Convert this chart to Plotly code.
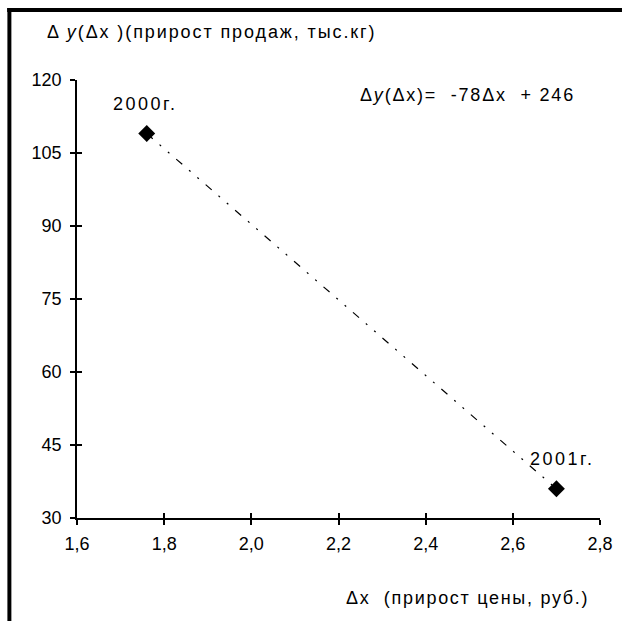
import plotly.graph_objects as go

# Data
years = ["2000г.", "2001г."]
dx = [1.76, 2.70]
dy = [109, 36]
x_ticks = [1.6, 1.8, 2.0, 2.2, 2.4, 2.6, 2.8]
y_ticks = [30, 45, 60, 75, 90, 105, 120]

FONT = "Liberation Sans"
FS = 18


def spaced(t, ls=2):
    return f'<span style="letter-spacing:{ls}px">{t}</span>'


fig = go.Figure()
fig.add_trace(go.Scatter(
    x=dx, y=dy, mode="lines",
    line=dict(color="black", width=1.2, dash="8px,9px,2px,9px,2px,9px"),
    hoverinfo="skip", showlegend=False))
fig.add_trace(go.Scatter(
    x=dx, y=dy, mode="markers",
    marker=dict(symbol="diamond", size=13, color="black"),
    showlegend=False))
# overlay axes for cross ticks
fig.add_trace(go.Scatter(x=dx, y=dy, xaxis="x2", yaxis="y2", mode="markers",
                         marker=dict(opacity=0), hoverinfo="skip", showlegend=False))

axis_common = dict(showgrid=False, zeroline=False, showline=True,
                   linecolor="black", linewidth=1.5, ticks="outside",
                   ticklen=5, tickwidth=1.5, tickcolor="black",
                   tickfont=dict(family=FONT, size=FS, color="black"))

fig.update_layout(
    width=625, height=621,
    margin=dict(l=77, r=22, t=80, b=103),
    paper_bgcolor="white", plot_bgcolor="white",
    separators=", ",
    font=dict(family=FONT, size=FS, color="black"),
    xaxis=dict(range=[1.6, 2.8], tickvals=x_ticks, tickformat=".1f",
               ticklabelstandoff=4, **axis_common),
    yaxis=dict(range=[30, 120], tickvals=y_ticks, ticklabelstandoff=5,
               **axis_common),
    xaxis2=dict(range=[1.6, 2.8], tickvals=x_ticks, overlaying="x",
                showticklabels=False, ticks="inside", ticklen=5, tickwidth=1.5,
                tickcolor="black", showgrid=False, zeroline=False, showline=False),
    yaxis2=dict(range=[30, 120], tickvals=y_ticks, overlaying="y",
                showticklabels=False, ticks="inside", ticklen=5, tickwidth=1.5,
                tickcolor="black", showgrid=False, zeroline=False, showline=False),
    showlegend=False,
)

# point labels
fig.add_annotation(x=dx[0], y=dy[0], text=spaced(years[0], 2.5), showarrow=False,
                   xshift=-2, yshift=30, font=dict(family=FONT, size=FS))
fig.add_annotation(x=dx[1], y=dy[1], text=spaced(years[1], 2.5), showarrow=False,
                   xshift=6, yshift=30, font=dict(family=FONT, size=FS))

# page-pixel -> paper helpers (plot area spans page x 77..603, y 80..518)
def px_x(p):
    return (p - 77) / 526
def px_y(p):
    return (518 - p) / 438

# equation
fig.add_annotation(xref="paper", yref="paper", x=px_x(470), y=px_y(95),
                   text=spaced("Δ<i>y</i>(Δx)=  -78Δx  + 246", 1.8), showarrow=False,
                   xanchor="center", yanchor="middle", font=dict(family=FONT, size=FS))
# y axis title
fig.add_annotation(xref="paper", yref="paper", x=px_x(45), y=px_y(32),
                   text=spaced("Δ <i>y</i>(Δx )(прирост продаж, тыс.кг)", 1.9),
                   showarrow=False,
                   xanchor="left", yanchor="middle", font=dict(family=FONT, size=FS))
# x axis title
fig.add_annotation(xref="paper", yref="paper", x=px_x(594), y=px_y(598),
                   text=spaced("Δx  (прирост цены, руб.)", 1.7), showarrow=False,
                   xanchor="right", yanchor="middle", font=dict(family=FONT, size=FS))

# frame (top and left bars)
fig.add_shape(type="rect", xref="paper", yref="paper",
              x0=px_x(7), x1=px_x(625), y0=px_y(12), y1=px_y(8),
              fillcolor="black", line=dict(width=0), layer="above")
fig.add_shape(type="line", xref="paper", yref="paper",
              x0=px_x(7), x1=px_x(625), y0=px_y(10), y1=px_y(10),
              line=dict(color="black", width=4))
fig.add_shape(type="rect", xref="paper", yref="paper",
              x0=px_x(7), x1=px_x(11), y0=px_y(8), y1=px_y(621),
              fillcolor="black", line=dict(width=0), layer="above")

fig.write_html("out.html", config={"displayModeBar": False},
               post_script="document.body.style.margin='0';")
